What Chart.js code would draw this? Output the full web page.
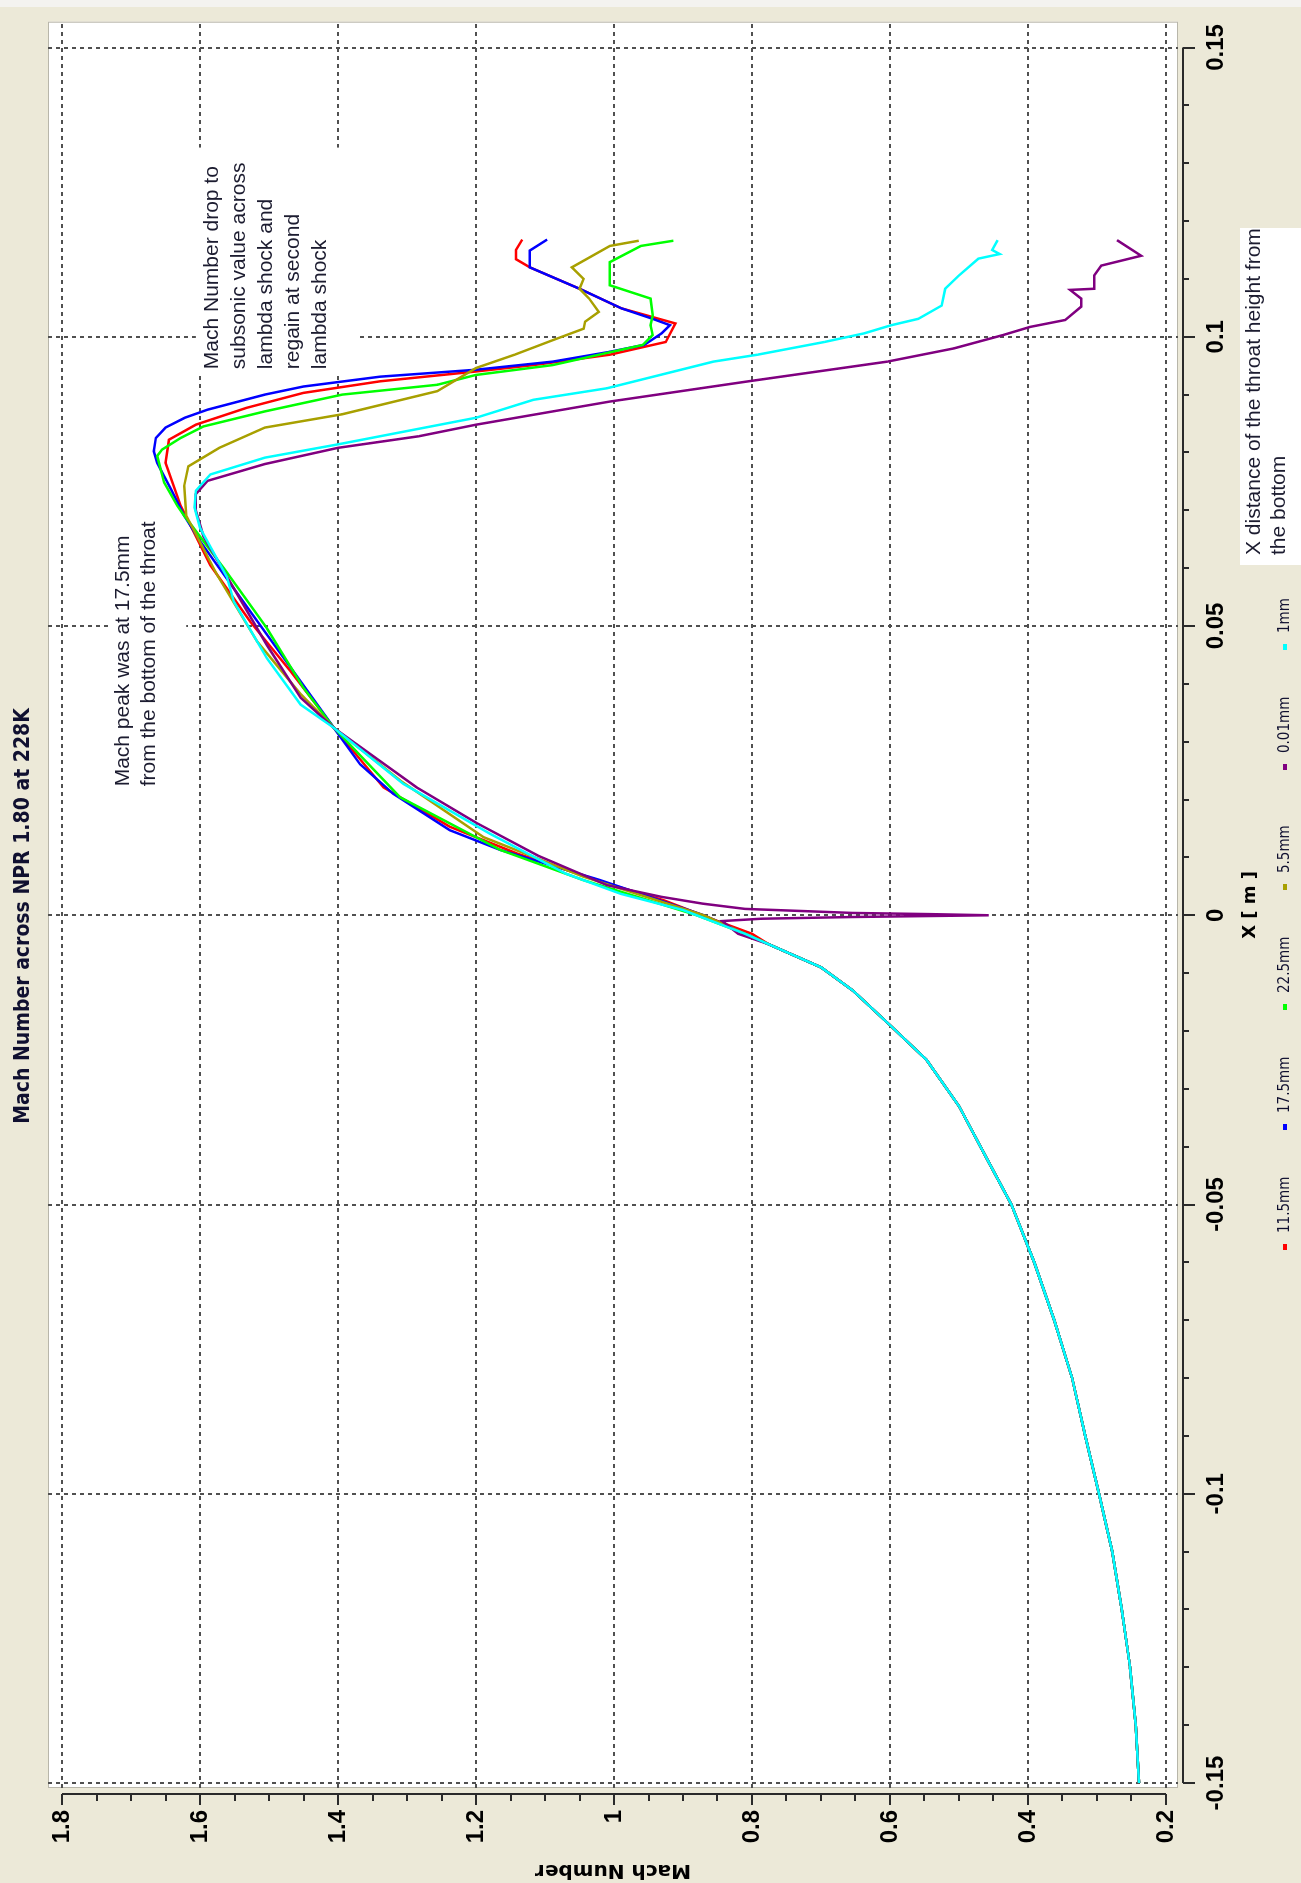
<!DOCTYPE html>
<html>
<head>
<meta charset="utf-8">
<script src="https://cdn.jsdelivr.net/npm/chart.js@4.4.1/dist/chart.umd.min.js"></script>
<style>
  html, body { margin: 0; padding: 0; background: #ece9d8; overflow: hidden; }
  /* chart is drawn landscape, then turned a quarter counter-clockwise like the screenshot */
  #wrap { position: absolute; left: 0; top: 0; width: 1883px; height: 1301px;
          transform-origin: 0 0; transform: translateY(1883px) rotate(-90deg); }
</style>
</head>
<body>
<div id="wrap"><canvas id="machChart" width="1883" height="1301" style="width:1883px;height:1301px"></canvas></div>
<script>
// ---- data (X in m, Mach number) ----
const seriesLabels = ['11.5mm', '17.5mm', '22.5mm', '5.5mm', '0.01mm', '1mm'];
const seriesColors = ['#ff0000', '#0000ff', '#00ff00', '#a8a000', '#800080', '#00ffff'];

const xTickValues = [-0.15, -0.1, -0.05, 0, 0.05, 0.1, 0.15];
const machTickValues = [0.2, 0.4, 0.6, 0.8, 1.0, 1.2, 1.4, 1.6, 1.8];

// converging part, same for every line
const inletX = [-0.15, -0.14, -0.13, -0.12, -0.11, -0.10, -0.09, -0.08, -0.07, -0.06, -0.05, -0.042, -0.033, -0.025, -0.019, -0.013, -0.009, -0.005];
const inletMach = [0.239, 0.244, 0.252, 0.264, 0.278, 0.297, 0.317, 0.336, 0.362, 0.391, 0.424, 0.46, 0.50, 0.547, 0.60, 0.654, 0.70, 0.776];

const x_11_5 = [-0.0032, -0.001, 0.0026, 0.0055, 0.0107, 0.0153, 0.0221, 0.0324, 0.0422, 0.0507, 0.0605, 0.0708, 0.0782, 0.0822, 0.0848, 0.0877, 0.0903, 0.0923, 0.094, 0.0951, 0.0969, 0.0991, 0.1023, 0.1049, 0.1083, 0.112, 0.1134, 0.115, 0.1168];
const mach_11_5 = [0.80, 0.85, 0.928, 1.01, 1.141, 1.238, 1.334, 1.406, 1.469, 1.527, 1.585, 1.628, 1.650, 1.645, 1.606, 1.533, 1.45, 1.339, 1.2, 1.117, 1.006, 0.925, 0.911, 0.989, 1.05, 1.122, 1.142, 1.142, 1.133];

const x_17_5 = [-0.0032, 0.0, 0.0061, 0.0113, 0.0147, 0.021, 0.0261, 0.0324, 0.0404, 0.0485, 0.0565, 0.0645, 0.0691, 0.0736, 0.0782, 0.0802, 0.0825, 0.0843, 0.086, 0.0874, 0.090, 0.0914, 0.0931, 0.0943, 0.0957, 0.0974, 0.0986, 0.1006, 0.102, 0.1031, 0.1049, 0.1083, 0.112, 0.1149, 0.1168];
const mach_17_5 = [0.81, 0.87, 1.021, 1.165, 1.238, 1.32, 1.368, 1.406, 1.454, 1.503, 1.551, 1.599, 1.623, 1.642, 1.662, 1.667, 1.664, 1.65, 1.622, 1.589, 1.506, 1.45, 1.339, 1.2, 1.089, 1.006, 0.956, 0.931, 0.919, 0.944, 0.989, 1.05, 1.122, 1.122, 1.097];

const x_22_5 = [-0.0032, 0.0, 0.0061, 0.0113, 0.0204, 0.0324, 0.0393, 0.0496, 0.0599, 0.0691, 0.0708, 0.0748, 0.0794, 0.0805, 0.0825, 0.0845, 0.0871, 0.09, 0.0917, 0.0934, 0.0951, 0.0986, 0.1003, 0.102, 0.1037, 0.1066, 0.1089, 0.1129, 0.1157, 0.1166];
const mach_22_5 = [0.81, 0.88, 1.045, 1.165, 1.31, 1.406, 1.45, 1.503, 1.565, 1.623, 1.633, 1.652, 1.662, 1.655, 1.628, 1.595, 1.506, 1.394, 1.256, 1.2, 1.089, 0.958, 0.944, 0.947, 0.944, 0.947, 1.006, 1.006, 0.961, 0.914];

const x_5_5 = [-0.0032, 0.0, 0.0067, 0.0135, 0.0233, 0.0324, 0.0382, 0.0473, 0.0588, 0.0691, 0.0742, 0.0776, 0.0808, 0.0843, 0.0866, 0.0906, 0.0946, 0.0969, 0.0994, 0.1014, 0.1026, 0.1043, 0.1066, 0.1083, 0.11, 0.112, 0.1157, 0.1166];
const mach_5_5 = [0.81, 0.87, 1.045, 1.189, 1.31, 1.406, 1.454, 1.517, 1.575, 1.62, 1.623, 1.617, 1.572, 1.506, 1.394, 1.256, 1.2, 1.144, 1.089, 1.044, 1.042, 1.022, 1.036, 1.05, 1.044, 1.061, 1.006, 0.964];

const x_0_01 = [-0.0032, -0.001, -0.0006, -0.0003, 0.0, 0.0002, 0.0004, 0.0007, 0.0011, 0.002, 0.0032, 0.0052, 0.0103, 0.016, 0.0221, 0.0324, 0.0376, 0.0467, 0.0565, 0.0655, 0.070, 0.0728, 0.0751, 0.078, 0.0808, 0.0828, 0.0848, 0.0888, 0.0923, 0.0957, 0.098, 0.1003, 0.1017, 0.1029, 0.1052, 0.1066, 0.1081, 0.1083, 0.1106, 0.1123, 0.114, 0.1167];
const mach_0_01 = [0.82, 0.843, 0.787, 0.654, 0.457, 0.543, 0.654, 0.72, 0.81, 0.871, 0.932, 1.01, 1.11, 1.2, 1.286, 1.406, 1.454, 1.503, 1.551, 1.595, 1.606, 1.606, 1.589, 1.506, 1.4, 1.283, 1.2, 1.006, 0.805, 0.604, 0.507, 0.436, 0.397, 0.346, 0.323, 0.323, 0.339, 0.304, 0.304, 0.294, 0.236, 0.271];

const x_1 = [-0.0032, 0.0009, 0.0037, 0.0072, 0.0141, 0.0227, 0.0324, 0.0364, 0.0444, 0.0542, 0.0585, 0.067, 0.0705, 0.0734, 0.0762, 0.0791, 0.0814, 0.0828, 0.086, 0.0891, 0.0911, 0.0957, 0.0969, 0.0991, 0.1006, 0.102, 0.1031, 0.1054, 0.1083, 0.1106, 0.1135, 0.1143, 0.115, 0.1167];
const mach_1 = [0.81, 0.90, 0.99, 1.07, 1.18, 1.305, 1.406, 1.454, 1.503, 1.551, 1.561, 1.6, 1.608, 1.606, 1.585, 1.506, 1.4, 1.339, 1.2, 1.117, 1.01, 0.856, 0.792, 0.695, 0.637, 0.598, 0.559, 0.525, 0.52, 0.50, 0.472, 0.441, 0.452, 0.444];

const seriesX = [x_11_5, x_17_5, x_22_5, x_5_5, x_0_01, x_1];
const seriesMach = [mach_11_5, mach_17_5, mach_22_5, mach_5_5, mach_0_01, mach_1];
const drawOrder = [5, 4, 3, 2, 1, 0];

const chartTitle = 'Mach Number across NPR 1.80 at 228K';
const noteShock = ['Mach Number drop to', 'subsonic value across', 'lambda shock and', 'regain at second', 'lambda shock'];
const notePeak = ['Mach peak was at 17.5mm', 'from the bottom of the throat'];
const noteSide = ['X distance of the throat height from', 'the bottom'];

function toPoints(xs, ms) {
  const allX = inletX.concat(xs);
  const allM = inletMach.concat(ms);
  return allX.map((x, i) => ({ x: x, y: allM[i] }));
}

const BEIGE = '#ece9d8';
const NOTE_FONT = '21px "Liberation Sans", Arial, sans-serif';
const NOTE_COLOR = '#1c1c30';

// white plot field, axis lines, notes, title and legend
const framePlugin = {
  id: 'frame',
  beforeDraw(chart) {
    const { ctx, chartArea: a, width, height } = chart;
    ctx.save();
    ctx.fillStyle = BEIGE;
    ctx.fillRect(0, 0, width, height);
    ctx.fillStyle = '#f4f3f0';
    ctx.fillRect(width - 7, 0, 7, height);
    ctx.fillStyle = '#ffffff';
    ctx.fillRect(a.left, a.top, a.right - a.left, a.bottom - a.top);
    ctx.strokeStyle = '#b8b6aa';
    ctx.lineWidth = 1;
    ctx.strokeRect(a.left + 0.5, a.top + 0.5, a.right - a.left - 1, a.bottom - a.top - 1);
    ctx.restore();
  },
  beforeDatasetsDraw(chart) {
    const { ctx } = chart;
    const xs = chart.scales.x, ys = chart.scales.y;
    ctx.save();
    ctx.font = NOTE_FONT;
    ctx.textAlign = 'left';
    ctx.textBaseline = 'middle';
    // note over the shock region
    let u0 = xs.getPixelForValue(0.0937), u1 = xs.getPixelForValue(0.1327);
    let v0 = ys.getPixelForValue(1.606), v1 = ys.getPixelForValue(1.372);
    ctx.fillStyle = '#ffffff';
    ctx.fillRect(u0, v0, u1 - u0, v1 - v0);
    ctx.fillStyle = NOTE_COLOR;
    noteShock.forEach((t, i) => ctx.fillText(t, u0 + 4, v0 + 16 + i * 27));
    // note about the peak
    u0 = xs.getPixelForValue(0.0209); u1 = xs.getPixelForValue(0.0707);
    v0 = ys.getPixelForValue(1.733); v1 = ys.getPixelForValue(1.62);
    ctx.fillStyle = '#ffffff';
    ctx.fillRect(u0, v0, u1 - u0, v1 - v0);
    ctx.fillStyle = NOTE_COLOR;
    notePeak.forEach((t, i) => ctx.fillText(t, u0 + 8, v0 + 15 + i * 26));
    ctx.restore();
  },
  afterDraw(chart) {
    const { ctx, chartArea: a } = chart;
    const xs = chart.scales.x, ys = chart.scales.y;
    const line = (x1, y1, x2, y2) => { ctx.beginPath(); ctx.moveTo(x1, y1); ctx.lineTo(x2, y2); ctx.stroke(); };
    ctx.save();
    ctx.strokeStyle = '#2a2a2a';
    ctx.lineWidth = 2;
    // Mach axis, set off from the plot field
    const ax = a.left - 6;
    line(ax, ys.getPixelForValue(1.8), ax, ys.getPixelForValue(0.2));
    for (let m = 0; m <= 32; m++) {
      const py = Math.round(ys.getPixelForValue(0.2 + m * 0.05));
      line(ax, py, ax - (m % 4 === 0 ? 11 : 7), py);
    }
    // X axis
    const ay = a.bottom + 5;
    line(xs.getPixelForValue(-0.15), ay, xs.getPixelForValue(0.15), ay);
    for (let k = -15; k <= 15; k++) {
      const px = Math.round(xs.getPixelForValue(k / 100));
      line(px, ay, px, ay + (k % 5 === 0 ? 12 : 6));
    }
    // chart title
    ctx.fillStyle = '#101030';
    ctx.font = 'bold 21px "DejaVu Sans Condensed", "DejaVu Sans", sans-serif';
    ctx.textAlign = 'center';
    ctx.textBaseline = 'middle';
    ctx.fillText(chartTitle, 967, 24);
    // legend, fixed slots like the original
    ctx.font = '15px "Liberation Sans Narrow", "DejaVu Sans Condensed", sans-serif';
    ctx.textAlign = 'left';
    chart.data.datasets.forEach((ds, i) => {
      const u = 636 + i * 120;
      ctx.fillStyle = ds.borderColor;
      ctx.fillRect(u - 3, 1283, 6, 4);
      ctx.fillStyle = '#101030';
      ctx.fillText(ds.label, u + 14, 1285);
    });
    // side note box
    ctx.fillStyle = '#ffffff';
    ctx.fillRect(1318, 1240, 337, 61);
    ctx.fillStyle = NOTE_COLOR;
    ctx.font = NOTE_FONT;
    noteSide.forEach((t, i) => ctx.fillText(t, 1328, 1254 + i * 25));
    ctx.restore();
  }
};

const tickFont = { family: '"Liberation Sans", Arial, sans-serif', size: 24, weight: 'bold' };
const fmt = v => String(+Number(v).toFixed(2));

const chart = new Chart(document.getElementById('machChart'), {
  type: 'scatter',
  data: {
    datasets: seriesLabels.map((label, i) => ({
      label: label,
      data: toPoints(seriesX[i], seriesMach[i]),
      showLine: true,
      borderColor: seriesColors[i],
      backgroundColor: seriesColors[i],
      borderWidth: 2.5,
      pointRadius: 0,
      tension: 0,
      order: drawOrder[i]
    }))
  },
  options: {
    responsive: false,
    animation: false,
    devicePixelRatio: 1,
    layout: { padding: { top: 48, right: 10, left: 0, bottom: 0 } },
    plugins: {
      legend: { display: false },
      title: { display: false },
      tooltip: { enabled: false }
    },
    events: [],
    scales: {
      x: {
        type: 'linear',
        position: 'bottom',
        min: -0.15086,
        max: 0.15446,
        afterBuildTicks: s => { s.ticks = xTickValues.map(v => ({ value: v })); },
        afterFit: s => { s.height = 123; },
        ticks: { font: tickFont, color: '#000', padding: 24, maxRotation: 0, callback: fmt },
        grid: { color: '#505050', lineWidth: 2, drawTicks: false },
        border: { display: false, dash: [4, 4] },
        title: {
          display: true, text: 'X [ m ]', color: '#000',
          font: { family: '"DejaVu Sans", sans-serif', size: 18, weight: 'bold' },
          padding: { top: 0, bottom: 40 }
        }
      },
      y: {
        type: 'linear',
        position: 'left',
        min: 0.1826,
        max: 1.8203,
        afterBuildTicks: s => { s.ticks = machTickValues.map(v => ({ value: v })); },
        afterFit: s => { s.width = 95; },
        ticks: { font: tickFont, color: '#000', padding: 22, callback: fmt },
        grid: { color: '#505050', lineWidth: 2, drawTicks: false },
        border: { display: false, dash: [4, 4] },
        title: {
          display: true, text: 'Mach Number', color: '#000',
          font: { family: '"DejaVu Sans", sans-serif', size: 20, weight: 'bold' },
          padding: { top: 1, bottom: 0 }
        }
      }
    }
  },
  plugins: [framePlugin]
});
</script>
</body>
</html>
